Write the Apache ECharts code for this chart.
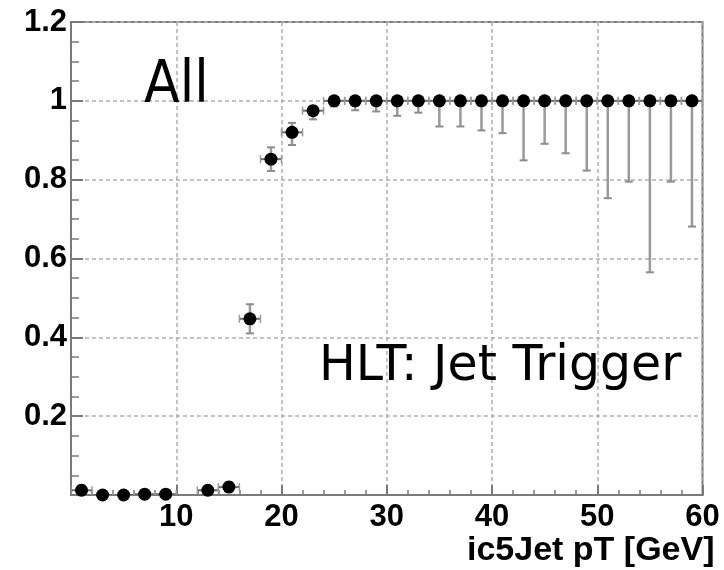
<!DOCTYPE html>
<html>
<head>
<meta charset="utf-8">
<title>HLT Jet Trigger efficiency vs ic5Jet pT</title>
<script src="https://cdn.jsdelivr.net/npm/echarts@6/dist/echarts.min.js"></script>
<style>
  html, body { margin: 0; padding: 0; background: #ffffff; }
  #chart { width: 724px; height: 570px; }
</style>
</head>
<body>
<div id="chart"></div>
<script>
// Bin centres of the ic5Jet pT histogram (bins 2 GeV wide; the 10-12 GeV bin is empty)
const ptBins = [1, 3, 5, 7, 9, 13, 15, 17, 19, 21, 23, 25, 27, 29, 31, 33, 35, 37, 39,
                41, 43, 45, 47, 49, 51, 53, 55, 57, 59];
// Trigger efficiency per bin
const efficiency = [0.012, 0.0, 0.0, 0.002, 0.002, 0.012, 0.02, 0.447, 0.852, 0.92, 0.975,
                    1, 1, 1, 1, 1, 1, 1, 1, 1, 1, 1, 1, 1, 1, 1, 1, 1, 1];
// Asymmetric uncertainties (down / up)
const errDown = [0.01, 0.0, 0.0, 0.002, 0.002, 0.008, 0.01, 0.037, 0.03, 0.032, 0.022,
                 0.014, 0.024, 0.027, 0.038, 0.03, 0.065, 0.065, 0.075,
                 0.082, 0.151, 0.109, 0.133, 0.177, 0.247, 0.205, 0.435, 0.205, 0.319];
const errUp = [0.012, 0.004, 0.004, 0.004, 0.004, 0.01, 0.012, 0.037, 0.03, 0.024, 0.01,
               0, 0, 0, 0, 0, 0, 0, 0, 0, 0, 0, 0, 0, 0, 0, 0, 0, 0];
// Half of the bin width, used for the horizontal error bars
const binHalfWidth = 1;

const xTicks = [10, 20, 30, 40, 50, 60];
const yTicks = [0.2, 0.4, 0.6, 0.8, 1, 1.2];

const chart = echarts.init(document.getElementById('chart'), null, { renderer: 'canvas' });

const points = ptBins.map((x, i) => [x, efficiency[i], errDown[i], errUp[i]]);

const labelFont = {
  fontFamily: '"Liberation Sans", Arial, sans-serif',
  fontWeight: 'bold',
  fontSize: 31,
  color: '#000000'
};

function renderErrorBar(params, api) {
  const x = api.value(0), y = api.value(1), lo = api.value(2), hi = api.value(3);
  const pl = api.coord([x - binHalfWidth, y]);
  const pr = api.coord([x + binHalfWidth, y]);
  const pLo = api.coord([x, y - lo]);
  const pHi = api.coord([x, y + hi]);
  const cap = 4;
  const children = [
    { type: 'line', shape: { x1: pl[0], y1: pl[1], x2: pr[0], y2: pr[1] },
      style: { stroke: '#6a6a6a', lineWidth: 2 } },
    { type: 'line', shape: { x1: pl[0], y1: pl[1] - cap, x2: pl[0], y2: pl[1] + cap },
      style: { stroke: '#9a9a9a', lineWidth: 1.5 } },
    { type: 'line', shape: { x1: pr[0], y1: pr[1] - cap, x2: pr[0], y2: pr[1] + cap },
      style: { stroke: '#9a9a9a', lineWidth: 1.5 } }
  ];
  if (lo + hi > 0) {
    children.push(
      { type: 'line', shape: { x1: pLo[0], y1: pLo[1], x2: pHi[0], y2: pHi[1] },
        style: { stroke: '#9a9a9a', lineWidth: 2.5 } },
      { type: 'line', shape: { x1: pLo[0] - cap, y1: pLo[1], x2: pLo[0] + cap, y2: pLo[1] },
        style: { stroke: '#8c8c8c', lineWidth: 2 } },
      { type: 'line', shape: { x1: pHi[0] - cap, y1: pHi[1], x2: pHi[0] + cap, y2: pHi[1] },
        style: { stroke: '#8c8c8c', lineWidth: 2 } }
    );
  }
  return { type: 'group', children };
}

const option = {
  backgroundColor: '#ffffff',
  animation: false,
  grid: {
    left: 71, right: 21.5, top: 22, bottom: 75,
    show: true, borderColor: '#7a7a7a', borderWidth: 2, backgroundColor: 'transparent'
  },
  xAxis: {
    type: 'value', min: 0, max: 60, interval: 10,
    name: 'ic5Jet pT [GeV]',
    nameLocation: 'end',
    nameGap: 12,
    nameTextStyle: Object.assign({}, labelFont, {
      fontSize: 34, align: 'right', verticalAlign: 'top', padding: [39, 0, 0, 0]
    }),
    axisLine: { show: true, onZero: false, lineStyle: { color: '#7a7a7a', width: 2 } },
    axisTick: { show: true, inside: true, length: 10, lineStyle: { color: '#7a7a7a', width: 2 } },
    minorTick: { show: true, splitNumber: 5, length: 5, lineStyle: { color: '#7a7a7a', width: 1.5 } },
    splitLine: { show: true, lineStyle: { color: '#b0b0b0', width: 1.5, type: [4, 3] } },
    axisLabel: Object.assign({}, labelFont, {
      margin: 7,
      formatter: v => (xTicks.indexOf(v) >= 0 ? String(v) : '')
    })
  },
  yAxis: {
    type: 'value', min: 0, max: 1.2, interval: 0.2,
    axisLine: { show: true, onZero: false, lineStyle: { color: '#7a7a7a', width: 2 } },
    axisTick: { show: true, inside: true, length: 12, lineStyle: { color: '#7a7a7a', width: 2 } },
    minorTick: { show: true, splitNumber: 4, length: 8, lineStyle: { color: '#7a7a7a', width: 1.5 } },
    splitLine: { show: true, lineStyle: { color: '#b0b0b0', width: 1.5, type: [4, 3] } },
    axisLabel: Object.assign({}, labelFont, {
      margin: 4,
      formatter: v => {
        const t = yTicks.find(k => Math.abs(k - v) < 1e-6);
        return t === undefined ? '' : String(t);
      }
    })
  },
  series: [
    {
      type: 'custom',
      name: 'errors',
      renderItem: renderErrorBar,
      data: points,
      encode: { x: 0, y: 1 },
      clip: true,
      z: 3
    },
    {
      type: 'scatter',
      name: 'efficiency',
      data: points.map(p => [p[0], p[1]]),
      symbol: 'circle',
      symbolSize: 13,
      itemStyle: { color: '#000000', opacity: 1 },
      clip: false,
      z: 4
    }
  ],
  graphic: [
    {
      type: 'text', left: 144, top: 58, z: 10,
      style: { text: 'All', font: '58px "DejaVu Sans Condensed", "DejaVu Sans", sans-serif', fill: '#000000' }
    },
    {
      type: 'text', left: 319, top: 343, z: 10,
      style: { text: 'HLT: Jet Trigger', font: '49px "DejaVu Sans", sans-serif', fill: '#000000' }
    }
  ]
};

chart.setOption(option);
</script>
</body>
</html>
